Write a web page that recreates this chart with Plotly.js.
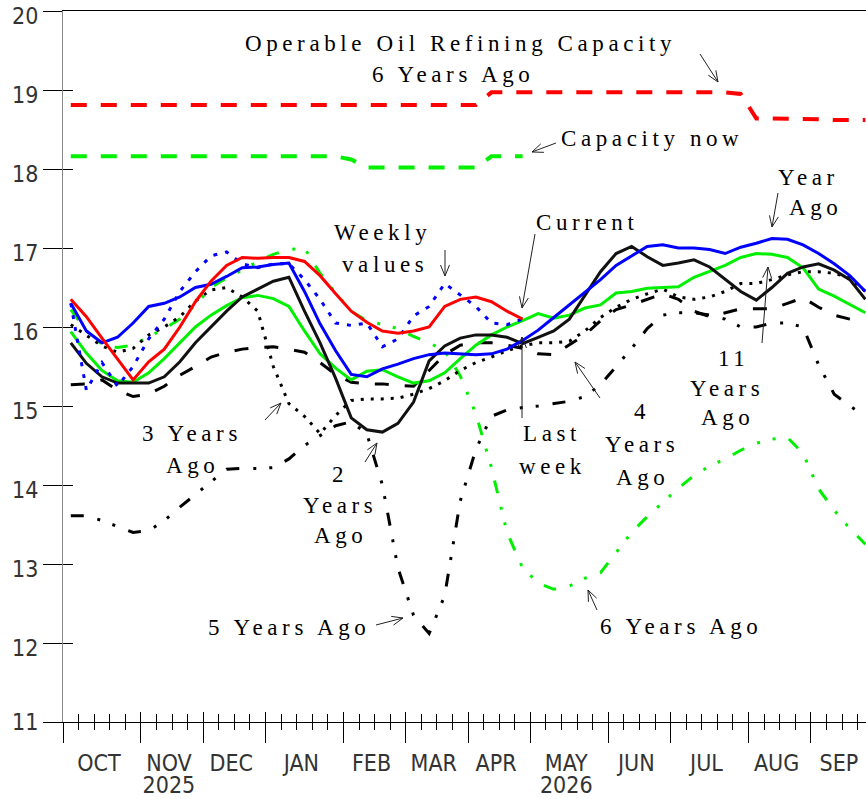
<!DOCTYPE html>
<html><head><meta charset="utf-8">
<script src="https://cdn.plot.ly/plotly-3.0.1.min.js"></script>
<style>
html,body{margin:0;padding:0;background:#fff;}
#chart{width:866px;height:799px;}
.annotation-text{letter-spacing:4.6px;}
</style></head><body><div id="chart"></div><script>
// ---- tick labels / categories ----
const months = ['OCT','NOV','DEC','JAN','FEB','MAR','APR','MAY','JUN','JUL','AUG','SEP'];
const monthWeeks = [5,4,4,5,4,4,4,5,4,5,4,4];
const yearLabels = ['2025','2026'];
const yearMonthIndex = [1,7];
const yTicks = [11,12,13,14,15,16,17,18,19,20];

// ---- series values (million barrels/day, weekly, starting first week of October) ----
const capacitySixYearsAgo = [18.81,18.81,18.81,18.81,18.81,18.81,18.81,18.81,18.81,18.81,18.81,18.81,18.81,18.81,18.81,18.81,18.81,18.81,18.81,18.81,18.81,18.81,18.81,18.81,18.81,18.81,18.81,18.97,18.97,18.97,18.97,18.97,18.97,18.97,18.97,18.97,18.97,18.97,18.97,18.97,18.97,18.97,18.97,18.95,18.64,18.64,18.64,18.63,18.63,18.62,18.62,18.62];
const capacityNow = [18.16,18.16,18.16,18.16,18.16,18.16,18.16,18.16,18.16,18.16,18.16,18.16,18.16,18.16,18.16,18.16,18.16,18.16,18.12,18.02,18.02,18.02,18.02,18.02,18.02,18.02,18.02,18.16,18.16,18.16];
const current = [16.35,16.13,15.86,15.6,15.33,15.56,15.72,16.0,16.32,16.58,16.78,16.88,16.87,16.88,16.88,16.83,16.65,16.42,16.2,16.06,15.95,15.92,15.95,16.0,16.26,16.35,16.38,16.32,16.2,16.1];
const currentWeekly = [16.3,15.2,15.55,15.25,15.5,15.85,16.1,16.45,16.7,16.9,16.95,16.8,16.75,16.8,16.8,16.6,16.35,16.05,16.02,16.05,15.75,15.85,16.14,16.26,16.55,16.4,16.26,16.05,16.03,16.1];
const yearAgo = [16.3,15.95,15.8,15.87,16.05,16.26,16.3,16.38,16.5,16.54,16.64,16.75,16.76,16.79,16.81,16.45,16.04,15.7,15.4,15.37,15.47,15.53,15.6,15.65,15.67,15.66,15.65,15.66,15.72,15.83,15.96,16.12,16.28,16.44,16.6,16.78,16.9,17.02,17.04,17.0,17.0,16.98,16.93,17.01,17.06,17.12,17.11,17.04,16.93,16.8,16.65,16.45];
const twoYearsAgo = [15.8,15.54,15.37,15.29,15.29,15.29,15.37,15.56,15.8,16.0,16.2,16.38,16.48,16.58,16.63,16.2,15.8,15.35,14.85,14.7,14.67,14.78,15.05,15.57,15.76,15.86,15.9,15.9,15.87,15.79,15.87,15.95,16.1,16.4,16.7,16.93,17.02,16.89,16.78,16.81,16.85,16.76,16.6,16.45,16.34,16.5,16.68,16.76,16.8,16.72,16.6,16.35];
const threeYearsAgo = [16.03,15.9,15.76,15.68,15.73,15.9,16.0,16.13,16.33,16.47,16.5,16.38,16.2,15.5,15.03,14.87,14.65,14.88,15.07,15.09,15.09,15.1,15.15,15.22,15.32,15.45,15.55,15.62,15.7,15.76,15.8,15.8,15.82,15.95,16.12,16.25,16.35,16.42,16.48,16.38,16.35,16.38,16.45,16.55,16.55,16.6,16.66,16.7,16.7,16.68,16.62,16.45];
const fourYearsAgo = [15.27,15.28,15.33,15.2,15.12,15.15,15.25,15.39,15.5,15.62,15.68,15.72,15.74,15.75,15.72,15.68,15.55,15.4,15.3,15.28,15.28,15.26,15.25,15.45,15.65,15.77,15.8,15.8,15.77,15.73,15.66,15.65,15.78,15.9,16.08,16.22,16.28,16.35,16.42,16.35,16.2,16.13,16.18,16.23,16.23,16.23,16.3,16.37,16.25,16.15,16.1,16.05];
const fiveYearsAgo = [13.61,13.61,13.55,13.47,13.4,13.42,13.55,13.72,13.88,14.05,14.2,14.21,14.21,14.22,14.33,14.5,14.63,14.75,14.8,14.65,14.0,12.95,12.35,12.12,12.6,13.8,14.45,14.87,14.95,14.98,15.0,15.03,15.06,15.12,15.27,15.5,15.73,15.98,16.15,16.18,16.18,16.15,16.1,16.0,16.0,16.05,16.05,16.0,15.52,15.15,15.0,14.87];
const sixYearsAgo = [16.22,15.95,15.78,15.74,15.77,15.87,15.98,16.1,16.28,16.5,16.62,16.72,16.83,16.92,16.98,17.0,16.68,16.43,16.2,16.08,16.03,15.98,15.88,15.8,15.7,15.38,14.9,14.22,13.4,12.95,12.76,12.68,12.72,12.82,12.89,13.15,13.4,13.6,13.78,13.96,14.12,14.24,14.33,14.44,14.53,14.58,14.6,14.4,13.95,13.68,13.45,13.25];
const elevenYearsAgo = [15.94,15.67,15.45,15.32,15.3,15.42,15.6,15.8,16.0,16.15,16.27,16.37,16.4,16.36,16.26,15.95,15.66,15.48,15.33,15.44,15.46,15.37,15.29,15.32,15.42,15.6,15.77,15.9,16.0,16.08,16.17,16.11,16.15,16.24,16.28,16.43,16.45,16.49,16.5,16.51,16.63,16.7,16.78,16.88,16.93,16.92,16.88,16.75,16.48,16.39,16.28,16.18];

// ---- geometry helpers ----
const FONT_TICK = 'Liberation Sans Narrow, DejaVu Sans Condensed, Arial Narrow, sans-serif';
const FONT_TEXT = 'Liberation Serif, Times New Roman, serif';
const ML = 63, MT = 11, MB = 77, PW = 866 - ML, PH = 799 - MT - MB;
const PX_PER_WEEK = 15.58;
const xMax = PW / PX_PER_WEEK;
const weekX = n => Array.from({length: n}, (_, i) => i + 0.5);

const monthStarts = [];
let acc = 0;
monthWeeks.forEach(w => { monthStarts.push(acc); acc += w; });
const monthMids = monthStarts.map((s, i) => s + monthWeeks[i] / 2 - 0.2);
const yearPos = yearMonthIndex.map(i => monthMids[i]);

// y tick labels sit a few pixels below their tick in the reference: a label-only overlay axis
const Y0 = yTicks[0], Y1 = yTicks[yTicks.length - 1];
const LABEL_SHIFT = 4.5;
const pxPerUnit = PH / (Y1 - Y0);
const yLabelVals = yTicks.map(v => Math.max(Y0, v - LABEL_SHIFT / pxPerUnit));

const GREEN = '#00f000';
function line(y, color, width, dash) {
  return {x: weekX(y.length), y: y, mode: 'lines', type: 'scatter', xaxis: 'x', yaxis: 'y',
          line: {color: color, width: width, dash: dash || 'solid', shape: 'linear'},
          hoverinfo: 'skip', showlegend: false};
}
const dashDot = '13px,14px,3px,13px,3px,14px';
const traces = [
  line(capacitySixYearsAgo, '#ff0000', 4, '16px,14px'),
  line(capacityNow, GREEN, 4, '16px,14px'),
  line(sixYearsAgo, GREEN, 3, dashDot),
  line(fiveYearsAgo, '#000000', 3, dashDot),
  line(fourYearsAgo, '#000000', 3, '14px,16px'),
  line(threeYearsAgo, '#000000', 3, '3px,7px'),
  line(elevenYearsAgo, GREEN, 3),
  line(twoYearsAgo, '#111111', 3),
  line(yearAgo, '#0000ff', 3),
  line(currentWeekly, '#0000ff', 3, '4px,8px'),
  line(current, '#ff0000', 3),
  {x: [], y: [], xaxis: 'x2', yaxis: 'y2', type: 'scatter', mode: 'lines', showlegend: false, hoverinfo: 'skip'},
  {x: [], y: [], xaxis: 'x3', yaxis: 'y', type: 'scatter', mode: 'lines', showlegend: false, hoverinfo: 'skip'},
  {x: [], y: [], xaxis: 'x4', yaxis: 'y', type: 'scatter', mode: 'lines', showlegend: false, hoverinfo: 'skip'},
  {x: [], y: [], xaxis: 'x', yaxis: 'y3', type: 'scatter', mode: 'lines', showlegend: false, hoverinfo: 'skip'}
];

// ---- annotation texts (label, centre px, centre py) ----
const labels = [
  ['Operable Oil Refining Capacity', 458, 43],
  ['6 Years Ago', 451, 74],
  ['Capacity now', 650, 139],
  ['Weekly', 380, 232],
  ['values', 383, 264],
  ['Current', 585, 222],
  ['Year', 806, 177],
  ['Ago', 813, 207],
  ['3 Years', 190, 433],
  ['Ago', 190, 465],
  ['2', 338, 475],
  ['Years', 338, 505],
  ['Ago', 338, 535],
  ['5 Years Ago', 287, 627],
  ['Last', 550, 433],
  ['week', 550, 467],
  ['4', 640, 412],
  ['Years', 640, 444],
  ['Ago', 640, 477],
  ['11', 731, 358],
  ['Years', 725, 388],
  ['Ago', 725, 417],
  ['6 Years Ago', 679, 626]
];
// arrows: tail px,py -> head px,py
const arrows = [
  [700, 54, 718, 82], [556, 143, 532, 152], [445, 250, 445, 276], [535, 234, 522, 308],
  [778, 193, 772, 227], [265, 420, 281, 403], [365, 462, 377, 443], [376, 625, 403, 618],
  [522, 418, 522, 337], [600, 398, 575, 362], [762, 343, 768, 267], [597, 610, 588, 590]
];
const toPx = v => (v - ML) / PW;
const toPy = v => (MT + PH - v) / PH;
function arrowPath(a) {
  const [x1, y1, x2, y2] = a;
  const dx = x2 - x1, dy = y2 - y1, len = Math.hypot(dx, dy), ux = dx / len, uy = dy / len;
  const hl = 11, hw = 4.5, bx = x2 - ux * hl, by = y2 - uy * hl;
  const p1 = [bx - uy * hw, by + ux * hw], p2 = [bx + uy * hw, by - ux * hw];
  const f = (x, y) => toPx(x).toFixed(5) + ',' + toPy(y).toFixed(5);
  return 'M' + f(x1, y1) + ' L' + f(x2, y2) + ' M' + f(p1[0], p1[1]) + ' L' + f(x2, y2) + ' L' + f(p2[0], p2[1]);
}
const annotations = labels.map(l => ({
  text: l[0], x: toPx(l[1] + 2.3), y: toPy(l[2]), xref: 'paper', yref: 'paper',
  xanchor: 'center', yanchor: 'middle', showarrow: false,
  font: {family: FONT_TEXT, size: 23, color: '#000'}
}));
const shapes = arrows.map(a => ({type: 'path', xref: 'paper', yref: 'paper', path: arrowPath(a),
  line: {color: '#222', width: 1}}));

const common = {range: [0, xMax], showgrid: false, zeroline: false};
const tickFont = {family: FONT_TICK, size: 23, color: '#333'};
const layout = {
  width: 866, height: 799, margin: {l: ML, r: 0, t: MT, b: MB, pad: 0},
  paper_bgcolor: '#fff', plot_bgcolor: 'rgba(0,0,0,0)', showlegend: false, hovermode: false,
  xaxis: Object.assign({}, common, {tickmode: 'array', tickvals: monthStarts, ticks: 'outside', ticklen: 20,
    tickcolor: '#000', tickwidth: 1, showticklabels: false, showline: true, linecolor: '#000', linewidth: 1, mirror: true,
    minor: {tickmode: 'linear', tick0: 0, dtick: 1, ticks: 'outside', ticklen: 7, tickcolor: '#000', tickwidth: 1, showgrid: false}}),
  xaxis2: Object.assign({}, common, {overlaying: 'x', anchor: 'y2', side: 'bottom', tickmode: 'array', tickvals: monthStarts,
    ticks: 'inside', ticklen: 10, tickcolor: '#000', tickwidth: 1, showticklabels: false, showline: false,
    minor: {tickmode: 'linear', tick0: 0, dtick: 1, ticks: 'inside', ticklen: 8, tickcolor: '#000', tickwidth: 1, showgrid: false}}),
  xaxis3: Object.assign({}, common, {overlaying: 'x', anchor: 'y', side: 'bottom', tickmode: 'array', tickvals: monthMids,
    ticktext: months, ticks: 'outside', ticklen: 20, tickcolor: 'rgba(0,0,0,0)', showline: false,
    ticklabeloverflow: 'allow', tickfont: tickFont}),
  xaxis4: Object.assign({}, common, {overlaying: 'x', anchor: 'y', side: 'bottom', tickmode: 'array', tickvals: yearPos,
    ticktext: yearLabels, ticks: 'outside', ticklen: 42, tickcolor: 'rgba(0,0,0,0)', showline: false,
    ticklabeloverflow: 'allow', tickfont: tickFont}),
  yaxis: {range: [Y0, Y1], tickmode: 'array', tickvals: yTicks, ticks: 'outside', ticklen: 19, tickcolor: '#000', tickwidth: 1,
    showline: true, linecolor: '#888', linewidth: 1.5, showgrid: false, zeroline: false, showticklabels: false},
  yaxis2: {overlaying: 'y', anchor: 'x', side: 'left', range: [Y0, Y1], tickmode: 'array', tickvals: yTicks, ticks: 'inside',
    ticklen: 10, tickcolor: '#000', tickwidth: 1, showticklabels: false, showline: false, showgrid: false, zeroline: false},
  yaxis3: {overlaying: 'y', anchor: 'x', side: 'left', range: [Y0, Y1], tickmode: 'array', tickvals: yLabelVals,
    ticktext: yTicks.map(String), ticks: 'outside', ticklen: 19, tickcolor: 'rgba(0,0,0,0)', showline: false,
    showgrid: false, zeroline: false, ticklabeloverflow: 'allow', tickfont: tickFont},
  annotations: annotations,
  shapes: shapes
};
Plotly.newPlot('chart', traces, layout, {staticPlot: true, displayModeBar: false});
</script></body></html>
